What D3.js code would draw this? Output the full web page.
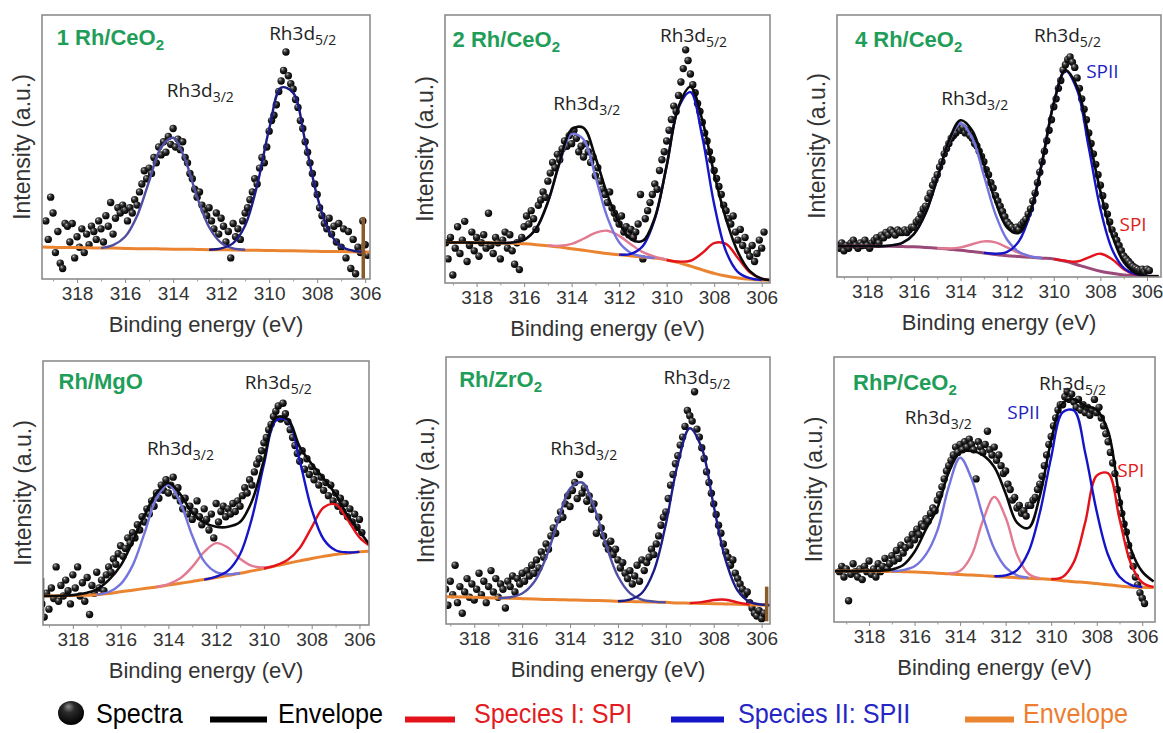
<!DOCTYPE html>
<html>
  <head>
    <meta charset="utf-8">
    <title>Rh3d XPS spectra</title>
    <script src="https://cdn.jsdelivr.net/npm/d3@7"></script>
    <style>
      body { margin: 0; background: #fff; }
      svg { display: block; }
    </style>
  </head>

  <body>
    <svg id="chart" width="1163" height="733"></svg>

    <script>
      // ---- data (intensity in a.u., 0 = frame bottom, 100 = frame top) ----

      // energy grid of the fitted curves (eV)
      const fitEnergy = [319.5, 319, 318.5, 318, 317.5, 317, 316.5, 316, 315.5, 315, 314.5, 314, 313.5, 313, 312.5,
        312, 311.5, 311, 310.5, 310, 309.5, 309, 308.5, 308, 307.5, 307, 306.5, 306, 305.5];

      // spectra were recorded on a 0.1 eV step, 319.3 eV down to 305.9 eV
      const spectraEnergy = d3.range(135).map(function(i) { return (3193 - i) / 10; });

      const majorTicks = [318, 316, 314, 312, 310, 308, 306];
      const minorTicks = [319, 317, 315, 313, 311, 309, 307];

      // 1 Rh/CeO2
      const p1Spectra = [22,15,31,25,10,18,6,4,21,20, 14,21,8,16,12,19,10,17,13,20, 18,15,22,19,14,24,20,29,17,23,
        27,25,28,26,22,27,25,30,28,33, 36,41,38,42,40,46,44,50,47,52, 48,54,51,57,50,53,49,52,46,44,
        40,38,34,31,33,28,26,24,27,22, 19,25,17,23,20,14,18,8,21,16, 19,15,22,25,27,30,33,38,36,42,
        46,44,50,56,60,62,66,71,75,79, 86,77,74,72,68,65,60,57,52,48, 44,40,36,32,27,24,21,19,23,17,
        20,14,21,12,19,8,18,4,15,2, 12,10,22,13,9];
      const p1Background = [12.1,12.0,11.9,11.9,11.8,11.7,11.7,11.6,11.5,11.5, 11.4,11.3,11.3,11.2,11.1,11.1,11.0,10.9,10.9,10.8,
        10.7,10.7,10.6,10.5,10.4,10.4,10.3,10.2,10.2];
      const p1SpII32 = [12.1,12.0,11.9,11.9,11.8,11.7,12.8,16.0,23.9,37.0, 49.8,53.5,45.2,31.0,19.6,13.7,11.6,11.1,10.9,10.8,
        10.7,10.7,10.6,10.5,10.4,10.4,10.3,10.2,10.2];
      const p1SpII52 = [12.1,12.0,11.9,11.9,11.8,11.7,11.7,11.6,11.5,11.5, 11.4,11.3,11.3,11.2,11.1,11.6,13.6,20.3,35.5,56.8,
        72.5,70.5,52.2,31.3,17.9,12.3,10.7,10.2,10.2];

      // 2 Rh/CeO2
      const p2Spectra = [15,9,17,3,13,21,11,16,23,8, 14,19,12,17,10,15,18,13,26,14, 11,17,15,9,16,19,13,18,12,7,
        15,5,17,21,25,22,27,24,20,29, 31,34,32,38,41,45,43,48,46,50, 53,51,55,52,57,54,49,51,47,52,
        49,45,47,40,43,38,35,33,30,34, 28,26,24,22,25,19,21,18,20,17, 19,22,33,9,24,27,30,33,37,35,
        42,46,49,53,57,61,66,64,70,75, 80,87,83,78,74,71,67,64,60,56, 53,49,46,42,39,36,33,29,27,24,
        22,25,19,16,20,14,17,12,10,14, 8,11,16,13,19];
      const p2Background = [15.1,15.1,15.1,15.0,15.0,14.9,14.8,14.6,14.3,13.9, 13.4,12.8,12.2,11.6,11.0,10.5,10.1,9.7,9.3,8.6,
        7.6,6.3,4.9,3.6,2.6,1.9,1.4,1.1,1.0];
      const p2SpII32 = [15.1,15.1,15.1,15.0,15.0,14.9,15.1,16.1,20.2,30.1, 44.7,55.6,53.6,39.8,24.6,15.2,11.2,9.9,9.3,8.6,
        7.6,6.3,4.9,3.6,2.6,1.9,1.4,1.1,1.0];
      const p2SpII52 = [15.1,15.1,15.1,15.0,15.0,14.9,14.8,14.6,14.3,13.9, 13.4,12.8,12.2,11.6,11.0,10.6,10.9,13.8,23.8,43.7,
        65.4,71.2,54.5,29.4,11.8,4.1,1.8,1.1,1.0];
      const p2SpI32 = [15.1,15.1,15.1,15.0,15.0,14.9,14.8,14.6,14.3,14.0, 13.9,14.6,16.5,18.7,19.5,17.6,14.4,11.5,9.8,8.7,
        7.6,6.3,4.9,3.6,2.6,1.9,1.4,1.1,1.0];
      const p2SpI52 = [15.1,15.1,15.1,15.0,15.0,14.9,14.8,14.6,14.3,13.9, 13.4,12.8,12.2,11.6,11.0,10.5,10.1,9.7,9.3,8.6,
        8.0,8.3,11.2,14.9,14.6,9.3,4.0,1.6,1.1];
      const p2Envelope = [15.1,15.1,15.1,15.0,15.0,14.9,15.1,16.1,20.2,30.2, 45.2,57.4,57.9,46.9,33.1,22.4,16.3,15.8,24.3,43.8,
        65.8,73.2,60.8,40.7,23.8,11.5,4.4,1.6,1.1];

      // 4 Rh/CeO2
      const p3Spectra = [12,11,13,10,12,11,13,14,12,11, 13,12,14,12,11,13,14,15,13,16, 15,17,16,18,17,16,18,17,17,18,
        17,18,19,19,21,22,24,26,27,30, 32,35,37,39,42,44,47,49,51,53, 54,55,57,56,57,55,56,54,53,51,
        50,48,46,44,41,39,36,34,31,29, 27,25,23,21,20,19,18,19,18,20, 21,22,24,26,29,32,36,40,44,48,
        52,56,60,65,68,72,75,79,81,83, 84,82,80,76,72,68,64,60,55,51, 47,43,39,35,31,27,24,21,18,16,
        14,12,10,8,7,6,5,4,3.5,3, 2.5,3,2,3,2.5];
      const p3Background = [11.8,11.8,11.8,11.8,11.7,11.7,11.6,11.5,11.3,11.0, 10.6,10.2,9.7,9.2,8.6,8.1,7.8,7.5,7.2,6.9,
        6.0,4.7,3.4,2.2,1.4,0.8,0.5,0.3,0.3];
      const p3SpII32 = [11.8,11.8,11.8,11.8,11.7,12.0,13.0,16.4,24.3,37.5, 51.7,58.7,53.1,38.8,23.9,14.2,9.6,7.9,7.3,6.9,
        6.0,4.7,3.4,2.2,1.4,0.8,0.5,0.3,0.3];
      const p3SpII52 = [11.8,11.8,11.8,11.8,11.7,11.7,11.6,11.5,11.3,11.0, 10.6,10.2,9.7,9.2,8.9,9.6,13.6,24.4,43.8,66.4,
        78.7,71.4,49.4,26.0,10.6,3.5,1.1,0.4,0.3];
      const p3SpI32 = [11.8,11.8,11.8,11.8,11.7,11.7,11.6,11.5,11.3,11.0, 10.9,11.3,12.5,13.6,13.2,11.3,9.2,7.9,7.3,6.9,
        6.0,4.7,3.4,2.2,1.4,0.8,0.5,0.3,0.3];
      const p3SpI52 = [11.8,11.8,11.8,11.8,11.7,11.7,11.6,11.5,11.3,11.0, 10.6,10.2,9.7,9.2,8.6,8.1,7.8,7.5,7.2,6.9,
        6.2,5.9,7.5,8.9,6.8,3.0,0.9,0.3,0.3];
      const p3Envelope = [11.8,11.8,11.8,11.8,11.7,12.0,13.0,16.4,24.3,37.5, 52.0,59.8,55.9,43.2,28.8,18.9,16.8,25.2,44.0,66.4,
        78.9,72.6,53.5,32.7,16.0,5.7,1.5,0.4,0.3];

      // Rh/MgO
      const p4Spectra = [8,3,12,6,14,10,22,9,15,11, 17,13,8,19,14,22,11,16,9,18, 4,15,12,20,14,17,13,19,22,20,
        25,23,27,30,26,29,33,31,35,33, 38,36,41,39,44,42,47,45,50,48, 53,51,55,50,53,56,49,52,47,44,
        48,42,45,40,43,47,41,38,44,40, 36,42,33,46,39,43,45,41,44,42, 46,43,47,45,49,52,50,55,53,58,
        61,63,66,69,71,74,76,79,81,83, 78,84,80,77,74,71,68,65,62,66, 59,63,57,60,55,58,53,56,51,54,
        49,53,47,50,45,48,43,46,41,44, 39,42,37,40,35];
      const p4Background = [11.0,11.0,11.1,11.2,11.3,11.5,11.9,12.6,13.2,13.8, 14.4,15.1,15.8,16.5,17.2,18.0,18.8,19.6,20.5,21.4,
        22.4,23.4,24.3,25.2,26.0,26.7,27.2,27.7,28.0];
      const p4SpII32 = [11.0,11.0,11.1,11.2,11.3,11.5,12.5,15.5,22.5,34.8, 48.0,53.2,46.3,33.8,24.1,20.0,19.2,19.6,20.5,21.4,
        22.4,23.4,24.3,25.2,26.0,26.7,27.2,27.7,28.0];
      const p4SpII52 = [11.0,11.0,11.1,11.2,11.3,11.5,11.9,12.6,13.2,13.8, 14.4,15.1,15.8,16.5,17.2,18.3,20.6,26.8,40.5,60.8,
        77.4,77.6,62.1,43.8,32.5,28.3,27.5,27.7,28.0];
      const p4SpI32 = [11.0,11.0,11.1,11.2,11.3,11.5,11.9,12.6,13.2,13.8, 14.4,15.5,17.7,22.0,27.7,31.0,29.3,25.1,22.4,21.8,
        22.4,23.4,24.3,25.2,26.0,26.7,27.2,27.7,28.0];
      const p4SpI52 = [11.0,11.0,11.1,11.2,11.3,11.5,11.9,12.6,13.2,13.8, 14.4,15.1,15.8,16.5,17.2,18.0,18.8,19.6,20.5,21.4,
        22.6,24.7,29.2,37.0,44.5,45.7,39.9,33.2,29.6];
      const p4Envelope = [11.0,11.0,11.1,11.3,12.0,13.5,17.0,22.5,31.5,41.5, 50.0,53.8,49.5,42.5,38.8,37.2,37.2,39.0,47.0,62.5,
        78.5,78.0,67.5,61.0,55.5,49.5,41.5,35.5,29.5];

      // Rh/ZrO2
      const p5Spectra = [9,13,7,16,11,22,8,14,4,12, 17,10,15,9,13,19,11,16,8,14, 20,12,17,10,15,13,6,16,14,18,
        12,17,15,19,16,20,18,22,19,24, 21,27,25,30,28,33,36,34,39,42, 40,45,48,44,50,53,47,56,49,51,
        46,48,43,45,34,40,36,33,30,28, 31,26,28,24,21,23,19,17,20,15, 18,22,16,24,20,23,25,28,26,30,
        33,37,40,42,47,52,56,60,63,67, 70,74,80,78,76,87,73,70,66,62, 57,53,49,45,41,37,34,30,27,25,
        22,24,19,17,15,13,11,12,8,6, 4,3,5,2,4];
      const p5Background = [10.3,10.2,10.1,10.0,9.8,9.7,9.6,9.5,9.4,9.2, 9.1,9.0,8.9,8.8,8.7,8.5,8.4,8.3,8.2,8.1,
        7.9,7.8,7.7,7.6,7.5,7.4,7.2,7.1,7.0];
      const p5SpII32 = [10.3,10.2,10.1,10.0,9.8,9.7,10.0,11.4,15.7,24.9, 38.6,50.7,53.0,43.9,29.7,17.9,11.6,9.1,8.4,8.1,
        7.9,7.8,7.7,7.6,7.5,7.4,7.2,7.1,7.0];
      const p5SpII52 = [10.3,10.2,10.1,10.0,9.8,9.7,9.6,9.5,9.4,9.2, 9.1,9.0,8.9,8.8,8.7,8.5,9.1,11.6,19.9,37.4,
        60.0,73.3,65.9,44.2,23.8,12.5,8.3,7.3,7.0];
      const p5SpI52 = [10.3,10.2,10.1,10.0,9.8,9.7,9.6,9.5,9.4,9.2, 9.1,9.0,8.9,8.8,8.7,8.5,8.4,8.3,8.2,8.1,
        7.9,7.8,8.2,9.0,9.1,8.1,7.3,7.1,7.0];

      // RhP/CeO2
      const p6Spectra = [19,21,17,20,8,18,22,19,17,20, 16,21,19,23,18,20,17,22,19,21, 24,20,22,25,23,27,24,29,26,28,
        31,29,33,31,35,33,37,36,39,38, 41,43,42,46,48,51,54,57,59,61, 63,66,64,67,65,68,66,69,67,65,
        54,68,66,64,67,72,65,63,66,61, 63,59,56,57,52,50,46,47,43,44, 41,42,40,44,44,46,47,50,52,55,
        59,63,67,70,74,77,80,82,82,85, 87,84,86,83,81,84,80,82,79,81, 78,80,84,79,81,77,74,71,68,64,
        60,56,50,45,41,37,34,29,25,21, 17,14,11,9,7];
      const p6Background = [19.2,19.2,19.2,19.2,19.1,19.1,19.0,18.9,18.7,18.4, 18.2,17.9,17.7,17.5,17.2,17.0,16.7,16.5,16.3,16.0,
        15.6,15.2,14.9,14.5,14.1,13.6,13.2,13.1,13.0];
      const p6SpII32 = [19.2,19.2,19.2,19.2,19.1,19.2,19.6,21.0,25.5,34.5, 51.0,62.0,54.1,40.0,27.6,20.6,17.6,16.7,16.3,16.0,
        15.6,15.2,14.9,14.5,14.1,13.6,13.2,13.1,13.0];
      const p6SpII52 = [19.2,19.2,19.2,19.2,19.1,19.1,19.0,18.9,18.7,18.4, 18.2,17.9,17.7,17.5,17.3,17.6,19.6,26.4,41.2,62.2,
        79.1,79.8,63.6,41.7,25.3,17.1,14.0,13.2,13.0];
      const p6SpI32 = [19.2,19.2,19.2,19.2,19.1,19.1,19.0,18.9,18.7,18.4, 18.3,19.3,25.1,38.2,47.2,39.4,25.4,18.2,16.5,16.0,
        15.6,15.2,14.9,14.5,14.1,13.6,13.2,13.1,13.0];
      const p6SpI52 = [19.2,19.2,19.2,19.2,19.1,19.1,19.0,18.9,18.7,18.4, 18.2,17.9,17.7,17.5,17.2,17.0,16.7,16.5,16.3,16.2,
        17.0,22.7,37.8,55.2,56.1,38.9,22.0,14.9,13.2];
      const p6Envelope = [19.2,19.2,19.2,19.3,19.3,19.8,21.5,26.5,35.0,43.0, 56.5,64.0,64.5,63.0,58.5,48.5,37.5,35.5,47.5,68.5,
        82.5,84.0,81.5,80.0,72.0,47.0,27.5,19.0,15.3];

      // instrument artefacts at the edge of some scans: [panel, energy, from, to]
      const edgeMarks = [[0, 306.08, 0, 23.5], [3, 319.24, 4.5, 17.8], [4, 305.79, 1, 14]];

      // ---- layout ----
      const colors = {
        envelope: "#0a0a0a",
        spII: "#1414c8",
        spIIlight: "#7474de",
        spI: "#e3121b",
        spIlight: "#e27a92",
        background: "#ea8430",
        navy: "#1c1c84",
        navyLight: "#4f4fa2",
        label: "#1f9e5a",
        text: "#333"
      };

      const panels = [
        {name: "1 Rh/CeO", sub: "2", frame: [42, 15, 370, 279], domain: [319.46, 305.8], spectra: p1Spectra,
          background: p1Background, spII: [p1SpII32, p1SpII52], spI: [], envelope: null, navy: true},
        {name: "2 Rh/CeO", sub: "2", frame: [445, 15, 770, 283], domain: [319.33, 305.65], spectra: p2Spectra,
          background: p2Background, spII: [p2SpII32, p2SpII52], spI: [p2SpI32, p2SpI52], envelope: p2Envelope},
        {name: "4 Rh/CeO", sub: "2", frame: [837, 15, 1161, 277], domain: [319.3, 305.4], spectra: p3Spectra,
          background: p3Background, spII: [p3SpII32, p3SpII52], spI: [p3SpI32, p3SpI52], envelope: p3Envelope,
          bgColor: "#9a4a78"},
        {name: "Rh/MgO", sub: "", frame: [43, 361, 369, 625], domain: [319.25, 305.6], spectra: p4Spectra,
          background: p4Background, spII: [p4SpII32, p4SpII52], spI: [p4SpI32, p4SpI52], envelope: p4Envelope},
        {name: "Rh/ZrO", sub: "2", frame: [446, 357, 770, 624], domain: [319.18, 305.65], spectra: p5Spectra,
          background: p5Background, spII: [p5SpII32, p5SpII52], spI: [null, p5SpI52], envelope: null, navy: true},
        {name: "RhP/CeO", sub: "2", frame: [834, 357, 1155, 622], domain: [319.54, 305.44], spectra: p6Spectra,
          background: p6Background, spII: [p6SpII32, p6SpII52], spI: [p6SpI32, p6SpI52], envelope: p6Envelope}
      ];

      // annotation anchors in data units: [panel, text, subscript, energy, intensity, colour]
      const annotations = [
        [0, "Rh3d", "5/2", 310.0, 90.5, "#222"], [0, "Rh3d", "3/2", 314.26, 69.1, "#222"],
        [1, "Rh3d", "5/2", 310.28, 90.0, "#222"], [1, "Rh3d", "3/2", 314.77, 64.6, "#222"],
        [2, "Rh3d", "5/2", 310.85, 89.7, "#222"], [2, "Rh3d", "3/2", 314.83, 65.6, "#222"],
        [2, "SPII", "", 308.61, 75.8, "#1f1fc0"], [2, "SPI", "", 307.18, 17.4, "#e02020"],
        [3, "Rh3d", "5/2", 310.8, 89.5, "#222"], [3, "Rh3d", "3/2", 314.9, 64.3, "#222"],
        [4, "Rh3d", "5/2", 310.1, 90.0, "#222"], [4, "Rh3d", "3/2", 314.83, 63.2, "#222"],
        [5, "Rh3d", "5/2", 310.53, 87.4, "#222"], [5, "Rh3d", "3/2", 316.43, 74.8, "#222"],
        [5, "SPII", "", 311.93, 76.7, "#1f1fc0"], [5, "SPI", "", 307.1, 54.7, "#e02020"]
      ];
      const panelLabelAt = [[318.85, 88.6], [319.01, 88.2], [318.53, 87.8], [318.6, 89.5], [318.63, 88.8], [318.7, 87.4]];

      const arial = "'Liberation Sans', Arial, sans-serif";
      const sans = "'Open Sans', 'Noto Sans', sans-serif";

      const svg = d3.select("#chart");
      const defs = svg.append("defs");

      // shaded sphere for the spectra points
      const ball = defs.append("radialGradient").attr("id", "ball")
        .attr("cx", 0.42).attr("cy", 0.38).attr("r", 0.62).attr("fx", 0.33).attr("fy", 0.28);
      ball.append("stop").attr("offset", 0).attr("stop-color", "#e6e6e6");
      ball.append("stop").attr("offset", 0.16).attr("stop-color", "#757575");
      ball.append("stop").attr("offset", 0.5).attr("stop-color", "#232323");
      ball.append("stop").attr("offset", 1).attr("stop-color", "#000");

      const bigBall = defs.append("radialGradient").attr("id", "bigBall")
        .attr("cx", 0.45).attr("cy", 0.35).attr("r", 0.65).attr("fx", 0.4).attr("fy", 0.22);
      bigBall.append("stop").attr("offset", 0).attr("stop-color", "#8c8c8c");
      bigBall.append("stop").attr("offset", 0.35).attr("stop-color", "#2b2b2b");
      bigBall.append("stop").attr("offset", 1).attr("stop-color", "#000");

      // only draw a component where it rises off the background
      function activeRange(values, bg) {
        let lo = -1, hi = -1;
        values.forEach(function(v, i) {
          if (Math.abs(v - bg[i]) > 0.2) {
            if (lo < 0) lo = i;
            hi = i;
          }
        });
        if (lo < 0) return [];
        lo = Math.max(0, lo - 1);
        hi = Math.min(values.length - 1, hi + 1);
        return d3.range(lo, hi + 1).map(function(i) { return [fitEnergy[i], values[i]]; });
      }

      panels.forEach(function(p, pi) {
        const [left, top, right, bottom] = p.frame;
        const x = d3.scaleLinear().domain(p.domain).range([left, right]);
        const y = d3.scaleLinear().domain([0, 100]).range([bottom, top]);
        const line = d3.line()
          .x(function(d) { return x(d[0]); })
          .y(function(d) { return y(d[1]); })
          .curve(d3.curveCatmullRom.alpha(0.5));

        defs.append("clipPath").attr("id", "clip" + pi)
          .append("rect").attr("x", left).attr("y", top)
          .attr("width", right - left).attr("height", bottom - top);

        const g = svg.append("g");
        const plot = g.append("g").attr("clip-path", "url(#clip" + pi + ")");

        // spectra
        plot.selectAll("circle.pt")
          .data(p.spectra.map(function(v, i) { return [spectraEnergy[i], v]; }))
          .enter().append("circle")
            .attr("class", "pt")
            .attr("cx", function(d) { return x(d[0]); })
            .attr("cy", function(d) { return y(d[1]); })
            .attr("r", 3.7)
            .attr("fill", "url(#ball)");

        // background
        plot.append("path")
          .datum(p.background.map(function(v, i) { return [fitEnergy[i], v]; }))
          .attr("d", line)
          .attr("fill", "none")
          .attr("stroke", p.bgColor || colors.background)
          .attr("stroke-width", 3);

        // species I (red) and species II (blue) components, 3d3/2 lighter
        p.spI.forEach(function(values, k) {
          if (!values) return;
          plot.append("path")
            .datum(activeRange(values, p.background))
            .attr("d", line)
            .attr("fill", "none")
            .attr("stroke", k === 0 ? colors.spIlight : colors.spI)
            .attr("stroke-width", 2.4);
        });
        p.spII.forEach(function(values, k) {
          let c = k === 0 ? colors.spIIlight : colors.spII;
          if (p.navy) c = k === 0 ? colors.navyLight : colors.navy;
          plot.append("path")
            .datum(activeRange(values, p.background))
            .attr("d", line)
            .attr("fill", "none")
            .attr("stroke", c)
            .attr("stroke-width", 2.4);
        });

        if (p.envelope) {
          plot.append("path")
            .datum(p.envelope.map(function(v, i) { return [fitEnergy[i], v]; }))
            .attr("d", line)
            .attr("fill", "none")
            .attr("stroke", colors.envelope)
            .attr("stroke-width", 2.6);
        }

        edgeMarks.filter(function(m) { return m[0] === pi; }).forEach(function(m) {
          plot.append("line")
            .attr("x1", x(m[1])).attr("x2", x(m[1]))
            .attr("y1", y(m[2])).attr("y2", y(m[3]))
            .attr("stroke", pi === 3 ? "#111" : "#8b5a2b")
            .attr("stroke-width", pi === 3 ? 2 : 3.5);
        });

        // frame
        g.append("rect")
          .attr("x", left).attr("y", top)
          .attr("width", right - left).attr("height", bottom - top)
          .attr("fill", "none")
          .attr("stroke", "#8c8c8c")
          .attr("stroke-width", 1.6);

        // x axis
        const gx = g.append("g")
          .attr("transform", "translate(0," + bottom + ")")
          .call(d3.axisBottom(x).tickValues(majorTicks).tickSize(4).tickPadding(4).tickFormat(d3.format("d")));
        gx.select(".domain").remove();
        gx.attr("font-size", 19).attr("font-family", arial);
        gx.selectAll("line").attr("stroke", "#888");
        gx.selectAll("text").attr("fill", colors.text);

        const gm = g.append("g")
          .attr("transform", "translate(0," + bottom + ")")
          .call(d3.axisBottom(x).tickValues(minorTicks).tickSize(2.5).tickFormat(""));
        gm.select(".domain").remove();
        gm.selectAll("line").attr("stroke", "#999");

        g.append("text")
          .attr("x", (left + right) / 2)
          .attr("y", bottom + 53)
          .attr("text-anchor", "middle")
          .attr("font-family", arial)
          .attr("font-size", 22)
          .attr("fill", colors.text)
          .text("Binding energy (eV)");

        g.append("text")
          .attr("transform", "translate(" + (left - 20) + "," + ((top + bottom) / 2) + ") rotate(-90)")
          .attr("text-anchor", "middle")
          .attr("dy", "0.35em")
          .attr("font-family", arial)
          .attr("font-size", 23)
          .attr("fill", colors.text)
          .text("Intensity (a.u.)");

        // sample name
        const lab = g.append("text")
          .attr("x", x(panelLabelAt[pi][0]))
          .attr("y", y(panelLabelAt[pi][1]))
          .attr("font-family", arial)
          .attr("font-weight", "bold")
          .attr("font-size", 22)
          .attr("fill", colors.label);
        lab.append("tspan").text(p.name);
        if (p.sub) lab.append("tspan").attr("font-size", 15).attr("dy", 5).text(p.sub);

        annotations.filter(function(a) { return a[0] === pi; }).forEach(function(a) {
          const t = g.append("text")
            .attr("x", x(a[3]))
            .attr("y", y(a[4]))
            .attr("font-family", sans)
            .attr("font-size", 19)
            .attr("fill", a[5]);
          t.append("tspan").text(a[1]);
          if (a[2]) t.append("tspan").attr("font-size", 14).attr("dy", 5).text(a[2]);
        });
      });

      // ---- legend ----
      const legend = svg.append("g").attr("font-family", arial).attr("font-size", 28);

      legend.append("ellipse")
        .attr("cx", 71).attr("cy", 713).attr("rx", 13).attr("ry", 12)
        .attr("fill", "url(#bigBall)");

      const legendLines = [
        {x1: 210, x2: 267, color: "#000"},
        {x1: 405, x2: 455, color: colors.spI},
        {x1: 671, x2: 724, color: colors.spII},
        {x1: 965, x2: 1014, color: colors.background}
      ];
      legend.selectAll("line")
        .data(legendLines)
        .enter().append("line")
          .attr("x1", function(d) { return d.x1; })
          .attr("x2", function(d) { return d.x2; })
          .attr("y1", 719.5).attr("y2", 719.5)
          .attr("stroke", function(d) { return d.color; })
          .attr("stroke-width", 6);

      const legendTexts = [
        {x: 96, text: "Spectra", color: "#000"},
        {x: 278, text: "Envelope", color: "#000"},
        {x: 474, text: "Species I: SPI", color: "#e31b23"},
        {x: 738, text: "Species II: SPII", color: "#2626c4"},
        {x: 1023, text: "Envelope", color: "#ed7d31"}
      ];
      legend.selectAll("text")
        .data(legendTexts)
        .enter().append("text")
          .attr("x", function(d) { return d.x; })
          .attr("y", 723)
          .attr("fill", function(d) { return d.color; })
          .text(function(d) { return d.text; })
          .each(function() {
            // the original uses a condensed face
            const len = this.getComputedTextLength();
            d3.select(this).attr("textLength", len * 0.9).attr("lengthAdjust", "spacingAndGlyphs");
          });
    </script>
  </body>
</html>
